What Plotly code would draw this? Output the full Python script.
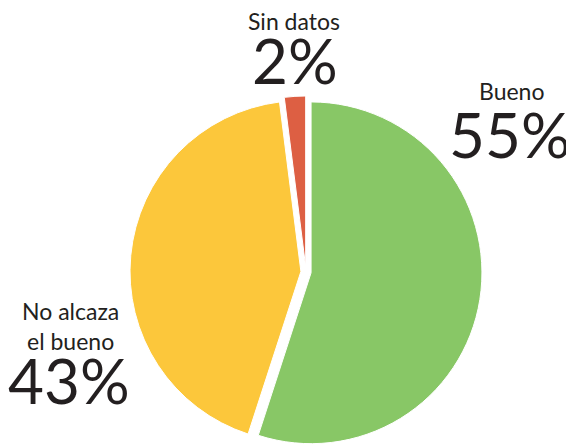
import plotly.graph_objects as go

labels = ["Bueno", "No alcaza el bueno", "Sin datos"]
values = [55, 43, 2]
colors = ["#88C766", "#FCC73B", "#DD5F43"]
label_text = ["Bueno", "No alcaza<br>el bueno", "Sin datos"]
pct_text = ["55%", "43%", "2%"]

# page body has an 8px margin, so the figure is drawn 8px smaller and offset
W, H = 566, 440
OFF = 8
pull = 0.03
cx = 306 - OFF
half = 176
fig = go.Figure(go.Pie(
    labels=labels, values=values, sort=False, direction="clockwise", rotation=0,
    marker=dict(colors=colors, line=dict(color="white", width=1)),
    pull=[pull] * 3, textinfo="none", hoverinfo="label+percent",
    domain=dict(x=[(cx - half) / W, (cx + half) / W], y=[0, 2 * half / H]),
))

txt = "#231F20"
small = dict(family="Lato", size=23, color=txt)
big = dict(family="Lato", size=62, color=txt)
# (x, y) centres in reference pixels
label_pos = [(511, 91.5), (70, 325.5), (294, 21)]
pct_pos = [(510, 134.5), (69, 380), (295.5, 60)]

anns = []
for (x, y), t in zip(label_pos, label_text):
    anns.append(dict(x=(x - OFF) / W, y=1 - (y - OFF) / H, text=t, font=small))
for (x, y), t in zip(pct_pos, pct_text):
    anns.append(dict(x=(x - OFF) / W, y=1 - (y - OFF) / H, text=t, font=big, height=56))
for a in anns:
    a.update(xref="paper", yref="paper", showarrow=False, xanchor="center", yanchor="middle")

fig.update_layout(
    width=W, height=H, margin=dict(l=0, r=0, t=0, b=0),
    paper_bgcolor="white", plot_bgcolor="white", showlegend=False,
    annotations=anns,
)
fig.write_html("out.html")
